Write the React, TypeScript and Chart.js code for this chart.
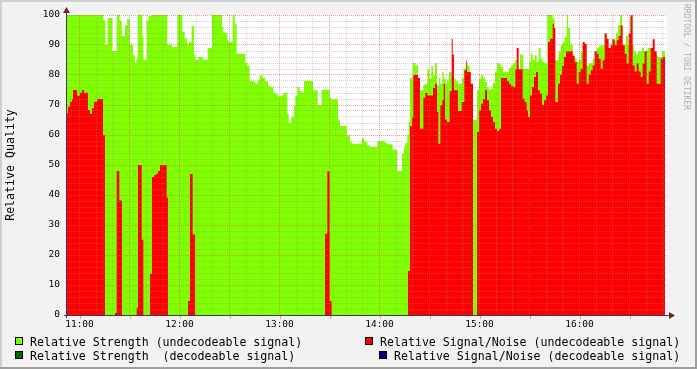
import { useEffect, useRef } from 'react';
import { Chart, registerables } from 'chart.js';

Chart.register(...registerables);

// Time in minutes of the day (e.g. 660 = 11:00); each value holds until the next time.
const strengthTimes = [
  652.5, 674.3, 675.5, 676.9, 679.7, 682.3, 684.1, 685.3, 687.3, 688.5, 690.1, 692.1, 693.3, 694.1, 694.9,
  697.7, 698.3, 700.3, 701.5, 703.5, 712.7, 715.5, 718.7, 721.7, 723.1, 724.5, 725.7, 727.3, 728.7, 729.7,
  731.3, 734.1, 736.9, 739.5, 745.5, 746.3, 748.7, 749.5, 751.9, 753.1, 754.3, 759.5, 760.7, 762.1, 764.7,
  765.9, 766.9, 768.1, 769.7, 771.3, 773.1, 774.3, 776.3, 777.7, 779.1, 780.7, 782.3, 784.7, 785.5, 787.1,
  788.7, 789.5, 790.7, 792.1, 793.3, 794.7, 800.1, 802.9, 805.3, 810.1, 811.1, 815.1, 816.3, 820.3, 822.3,
  823.5, 829.5, 830.7, 831.5, 832.7, 834.3, 838.7, 843.5, 844.7, 847.9, 850.7, 853.5, 854.7, 855.5, 856.7,
  857.5, 858.3, 859.9, 861.5, 863.1, 864.3, 866.3, 867.5, 868.7, 869.9, 871.1, 872.1, 873.3, 874.5, 875.7,
  876.5, 877.7, 878.5, 879.7, 880.5, 881.7, 883.3, 884.5, 885.7, 886.9, 889.3, 890.5, 891.7, 892.9, 894.1,
  894.9, 896.1, 898.5, 899.7, 900.9, 902.1, 903.3, 904.5, 905.7, 906.9, 908.1, 909.3, 910.5, 911.7, 912.9,
  914.1, 915.3, 916.5, 917.7, 918.9, 920.1, 921.3, 922.3, 924.3, 926.3, 929.9, 930.7, 931.9, 933.1, 934.3,
  935.5, 936.7, 937.9, 939.1, 940.7, 943.9, 945.1, 947.5, 948.7, 949.9, 951.1, 952.3, 953.1, 954.3, 955.9,
  957.1, 958.3, 959.5, 960.7, 961.9, 963.1, 964.3, 965.5, 967.9, 969.1, 970.3, 971.5, 972.7, 975.1, 976.3,
  979.5, 980.7, 981.9, 983.1, 984.3, 985.5, 987.9, 989.1, 990.3, 991.5, 992.7, 993.9, 995.1, 997.5, 998.7,
  999.9, 1001.1, 1003.5, 1004.7, 1005.9, 1007.1, 1009.5, 1011.3,
];
const strengthValues = [
  100, 98.2, 90, 99, 88, 100, 98.2, 93, 96.6, 98.6, 90.1, 86.6, 84, 85.4, 100,
  93.2, 85.1, 98.2, 99.7, 100, 90.1, 89.3, 100, 94.3, 92.1, 90.2, 91, 96.3, 86.6, 85.1,
  86, 85.1, 89, 100, 96, 94.1, 91.6, 91, 100, 97.1, 87.1, 84.1, 83, 78, 77.6,
  77.1, 78.2, 79.9, 79, 77.9, 76.3, 76, 74.1, 73.6, 72.9, 73.2, 74, 67.1, 64, 66,
  69.7, 73.2, 76, 74.7, 74.1, 78, 74.9, 69.9, 75.1, 72.3, 71.9, 64.9, 63, 59.9, 57.7,
  57.1, 59, 58.2, 57.7, 56.6, 56, 57.9, 57.3, 56.9, 55.1, 48, 53.8, 56, 57.3, 59.9,
  64.3, 79, 84, 83.2, 78.8, 74.9, 76.8, 77.1, 81.9, 78.8, 83, 79.9, 84, 76.6, 79,
  77.1, 81, 78.8, 77.1, 78.2, 81, 79.3, 78.8, 78, 77.1, 79, 82.1, 84, 83.2, 81.2,
  69.3, 65.1, 74.9, 78.8, 79.9, 79.1, 77.7, 75.8, 75.2, 75.4, 77.4, 81.2, 84, 83.6, 82.7,
  81, 81.2, 81, 82.3, 83.2, 83.8, 84.9, 82, 86.8, 82.1, 84.3, 87.1, 85.1, 86.6, 84.3,
  89, 85.4, 84.3, 83.8, 100, 98.8, 84.9, 87.9, 89.9, 91, 92.7, 100, 95.7, 90.1, 86.8,
  85.4, 84.3, 84.9, 87.9, 90.1, 89.9, 83.2, 83.8, 85.4, 87.9, 89, 89.6, 89.9, 93.8, 89,
  91.9, 91.6, 93.8, 96.6, 100, 90.1, 93.2, 89.9, 99.3, 89.9, 87.9, 86.8, 87.9, 89, 87.9,
  88.2, 89, 88.6, 87.9, 86.6, 86, 87.9, 87.9,
];

const snrTimes = [
  652.5, 653.1, 654.3, 655.5, 656.1, 658.5, 660.3, 661.5, 662.7, 665.1, 666.3, 667.5, 668.7, 670.7, 674.1,
  675.3, 681.3, 682.3, 683.9, 685.5, 694.3, 695.1, 697.3, 698.3, 702.3, 703.5, 704.7, 705.9, 707.1, 708.3,
  712.3, 713.1, 725.1, 726.3, 727.9, 729.3, 807.3, 808.7, 810.1, 811.3, 857.1, 858.3, 859.5, 860.3, 863.1,
  864.3, 866.3, 867.5, 868.7, 872.1, 873.3, 874.5, 875.3, 876.5, 877.7, 878.5, 879.3, 880.5, 882.1, 883.3,
  883.9, 884.7, 887.1, 889.3, 890.9, 892.1, 892.5, 894.7, 896.1, 898.5, 899.7, 900.9, 902.1, 903.3, 904.5,
  905.7, 906.9, 908.1, 909.3, 910.5, 911.7, 912.9, 916.5, 917.7, 918.9, 920.1, 921.5, 922.3, 923.5, 925.9,
  927.1, 928.3, 929.1, 930.3, 931.5, 932.7, 933.9, 935.1, 936.3, 937.5, 938.7, 939.9, 941.1, 942.3, 943.9,
  944.7, 945.5, 947.1, 948.3, 949.5, 950.7, 951.9, 955.9, 957.1, 958.3, 959.5, 960.7, 961.9, 963.1, 964.3,
  965.5, 966.7, 967.9, 969.1, 970.3, 971.5, 972.7, 973.9, 975.1, 976.3, 977.5, 978.7, 979.9, 981.1, 982.3,
  983.5, 984.7, 985.9, 987.1, 988.3, 989.5, 990.7, 991.9, 993.1, 994.3, 995.5, 996.7, 997.9, 999.1, 1000.3,
  1001.5, 1002.7, 1003.9, 1005.1, 1006.3, 1008.7, 1009.9, 1011.3,
];
const snrValues = [
  67.2, 69.4, 71.1, 71.9, 75, 73.1, 74.1, 75, 74.1, 68.3, 67, 68.9, 71.1, 72, 59.9,
  0, 0.7, 48, 38.2, 0, 2.4, 50, 25.1, 0, 13.7, 46, 46.6, 47.1, 48, 50,
  39.1, 0, 4.7, 47, 26.8, 0, 27.1, 47.9, 4.7, 0, 14.7, 63, 65.7, 80, 79,
  62.1, 72.3, 74, 73.2, 75.7, 77.1, 67.7, 57.1, 69.9, 71.6, 77.1, 65.2, 64.3, 74.6, 92.1,
  86.8, 74.9, 68, 71, 81.6, 84.9, 81, 77.1, 0, 61, 68.2, 70.4, 71.9, 74.9, 71.6,
  68.2, 66, 64.3, 62.1, 61.3, 62.1, 79, 77.9, 77.1, 76.3, 76, 81.9, 89, 81.9, 72.1,
  71, 68.2, 66, 73.2, 76, 79.3, 81, 74.9, 73.8, 70.1, 71.6, 73.2, 91, 92.1, 97.1,
  95.7, 71, 77.1, 80.1, 83, 86, 87.9, 86.3, 84.3, 77.1, 81, 82.1, 91, 90.4, 77.1,
  80.1, 81.6, 83.2, 87.9, 87.1, 85.4, 82.1, 84.9, 93.8, 92.1, 89, 90.1, 91.9, 89.9, 91.6,
  93, 96.6, 89.9, 87.1, 83.8, 93.8, 100, 83.2, 81.2, 83.8, 81.2, 79.3, 83.8, 87.9, 77.1,
  81.2, 89, 91.9, 87.9, 77.1, 85.4, 86, 86,
];

const seriesLabels = [
  'Relative Strength (undecodeable signal)',
  'Relative Signal/Noise (undecodeable signal)',
  'Relative Strength  (decodeable signal)',
  'Relative Signal/Noise (decodeable signal)',
];
const seriesColors = ['#7FFF00', '#FF0000', '#006400', '#00007F'];

const xStart = 652.5;
const xEnd = 1012.5;
const xGridTimes = [
  660, 670, 680, 690, 700, 710, 720, 730, 740, 750, 760, 770, 780, 790, 800, 810, 820, 830,
  840, 850, 860, 870, 880, 890, 900, 910, 920, 930, 940, 950, 960, 970, 980, 990, 1000, 1010,
];
const yGridValues = [
  0, 2, 4, 6, 8, 10, 12, 14, 16, 18, 20, 22, 24, 26, 28, 30, 32, 34, 36, 38, 40, 42, 44, 46, 48, 50,
  52, 54, 56, 58, 60, 62, 64, 66, 68, 70, 72, 74, 76, 78, 80, 82, 84, 86, 88, 90, 92, 94, 96, 98, 100,
];
const yTitle = 'Relative Quality';
const watermark = 'RRDTOOL / TOBI OETIKER';

const MONO = '"DejaVu Sans Mono", monospace';
const MAJOR = 'rgba(222, 80, 80, 0.55)';
const MINOR = 'rgba(160, 140, 140, 0.4)';

function fmtTime(v: number) {
  const h = Math.floor(v / 60);
  const m = Math.round(v - h * 60);
  return String(h).padStart(2, '0') + ':' + String(m).padStart(2, '0');
}

function toPoints(times: number[], values: number[]) {
  return times.map((t, i) => ({ x: t, y: values[i] }));
}

const framePlugin = {
  id: 'rrdFrame',
  beforeDraw(chart: any) {
    const { ctx, width, height, chartArea } = chart;
    ctx.save();
    ctx.fillStyle = '#F2F2F2';
    ctx.fillRect(0, 0, width, height);
    ctx.fillStyle = '#CFCFCF';
    ctx.fillRect(0, 0, width, 2);
    ctx.fillRect(0, 0, 2, height);
    ctx.fillStyle = '#9E9E9E';
    ctx.fillRect(0, height - 2, width, 2);
    ctx.fillRect(width - 2, 0, 2, height);
    ctx.fillStyle = '#FFFFFF';
    ctx.fillRect(chartArea.left, chartArea.top, chartArea.right - chartArea.left, chartArea.bottom - chartArea.top);
    ctx.restore();
  },
  afterDraw(chart: any) {
    const { ctx, chartArea } = chart;
    const xs = chart.scales.x;
    const L = chartArea.left;
    const B = chartArea.bottom;
    ctx.save();
    ctx.strokeStyle = MAJOR;
    ctx.lineWidth = 1;
    xGridTimes.forEach((t) => {
      if (t % 30 === 0) {
        const px = Math.round(xs.getPixelForValue(t)) + 0.5;
        ctx.beginPath();
        ctx.moveTo(px, B + 1);
        ctx.lineTo(px, B + 4);
        ctx.stroke();
      }
    });
    ctx.strokeStyle = '#3A3A62';
    ctx.lineWidth = 1;
    ctx.beginPath();
    ctx.moveTo(L - 3, B + 0.5);
    ctx.lineTo(chartArea.right + 3, B + 0.5);
    ctx.moveTo(L - 0.5, B + 3);
    ctx.lineTo(L - 0.5, chartArea.top - 3);
    ctx.stroke();
    ctx.fillStyle = '#7F1F1F';
    ctx.beginPath();
    ctx.moveTo(chartArea.right + 2, B - 3);
    ctx.lineTo(chartArea.right + 8, B + 0.5);
    ctx.lineTo(chartArea.right + 2, B + 4);
    ctx.closePath();
    ctx.fill();
    ctx.beginPath();
    ctx.moveTo(L - 4, chartArea.top - 2);
    ctx.lineTo(L - 0.5, chartArea.top - 8);
    ctx.lineTo(L + 3, chartArea.top - 2);
    ctx.closePath();
    ctx.fill();

    ctx.font = '11.6px ' + MONO;
    ctx.textBaseline = 'alphabetic';
    ctx.textAlign = 'left';
    const items = [
      { i: 0, bx: 15, by: 337, tx: 30, ty: 345.5 },
      { i: 1, bx: 365, by: 337, tx: 380, ty: 345.5 },
      { i: 2, bx: 15, by: 351, tx: 30, ty: 359.5 },
      { i: 3, bx: 379, by: 351, tx: 394, ty: 359.5 },
    ];
    items.forEach((it) => {
      const ds = chart.data.datasets.find((d: any) => d.label === seriesLabels[it.i]);
      ctx.fillStyle = ds ? ds.backgroundColor : seriesColors[it.i];
      ctx.fillRect(it.bx, it.by, 8, 8);
      ctx.strokeStyle = '#000';
      ctx.lineWidth = 1;
      ctx.strokeRect(it.bx + 0.5, it.by + 0.5, 7, 7);
      ctx.fillStyle = '#000';
      ctx.fillText(seriesLabels[it.i], it.tx, it.ty);
    });

    ctx.save();
    ctx.translate(686, 4);
    ctx.rotate(Math.PI / 2);
    ctx.font = '8px ' + MONO;
    ctx.fillStyle = 'rgba(0,0,0,0.3)';
    ctx.textBaseline = 'middle';
    ctx.fillText(watermark, 0, 0);
    ctx.restore();
    ctx.restore();
  },
};

export default function App() {
  const ref = useRef<HTMLCanvasElement | null>(null);
  useEffect(() => {
    if (!ref.current) return;
    const common = {
      stepped: true,
      fill: 'origin',
      borderWidth: 0,
      borderColor: 'rgba(0,0,0,0)',
      pointRadius: 0,
      pointHoverRadius: 0,
      tension: 0,
    };
    const chart = new Chart(ref.current, {
      type: 'line',
      data: {
        datasets: [
          { ...common, label: seriesLabels[1], data: toPoints(snrTimes, snrValues), backgroundColor: seriesColors[1], order: 1 },
          { ...common, label: seriesLabels[0], data: toPoints(strengthTimes, strengthValues), backgroundColor: seriesColors[0], order: 2 },
          { ...common, label: seriesLabels[2], data: [], backgroundColor: seriesColors[2], order: 3 },
          { ...common, label: seriesLabels[3], data: [], backgroundColor: seriesColors[3], order: 4 },
        ],
      } as any,
      options: {
        responsive: false,
        animation: false,
        devicePixelRatio: 1,
        events: [],
        layout: { padding: { left: 0, top: 15, right: 30, bottom: 0 } },
        plugins: {
          legend: { display: false },
          tooltip: { enabled: false },
          title: { display: false },
        },
        scales: {
          x: {
            type: 'linear',
            min: xStart,
            max: xEnd,
            afterBuildTicks: (s: any) => {
              s.ticks = xGridTimes.map((v) => ({ value: v }));
            },
            afterFit: (s: any) => {
              s.height = 54;
            },
            grid: {
              z: 1,
              drawTicks: false,
              lineWidth: 1,
              color: (c: any) => (c.tick && c.tick.value % 30 === 0 ? MAJOR : MINOR),
            },
            border: { display: false, dash: [1, 1] },
            ticks: {
              autoSkip: false,
              maxRotation: 0,
              minRotation: 0,
              padding: 4,
              color: '#000',
              font: { family: MONO, size: 9.5 },
              callback: (v: any) => (Number(v) % 60 === 0 ? fmtTime(Number(v)) : ''),
            },
          },
          y: {
            type: 'linear',
            min: 0,
            max: 100,
            afterBuildTicks: (s: any) => {
              s.ticks = yGridValues.map((v) => ({ value: v }));
            },
            afterFit: (s: any) => {
              s.width = 67;
            },
            grid: {
              z: 1,
              drawTicks: false,
              lineWidth: 1,
              color: (c: any) => (c.tick && c.tick.value % 10 === 0 ? MAJOR : MINOR),
            },
            border: { display: false, dash: [1, 1] },
            ticks: {
              autoSkip: false,
              padding: 7,
              color: '#000',
              font: { family: MONO, size: 9.5 },
              callback: (v: any) => (Number(v) % 10 === 0 ? String(v) : ''),
            },
            title: {
              display: true,
              text: yTitle,
              color: '#000',
              font: { family: MONO, size: 11.6 },
              padding: { top: 4, bottom: 0 },
            },
          },
        },
      } as any,
      plugins: [framePlugin],
    });
    return () => chart.destroy();
  }, []);
  return (
    <div style={{ position: 'fixed', left: 0, top: 0, width: 697, height: 369 }}>
      <canvas ref={ref} width={697} height={369} style={{ display: 'block', width: 697, height: 369 }} />
    </div>
  );
}
